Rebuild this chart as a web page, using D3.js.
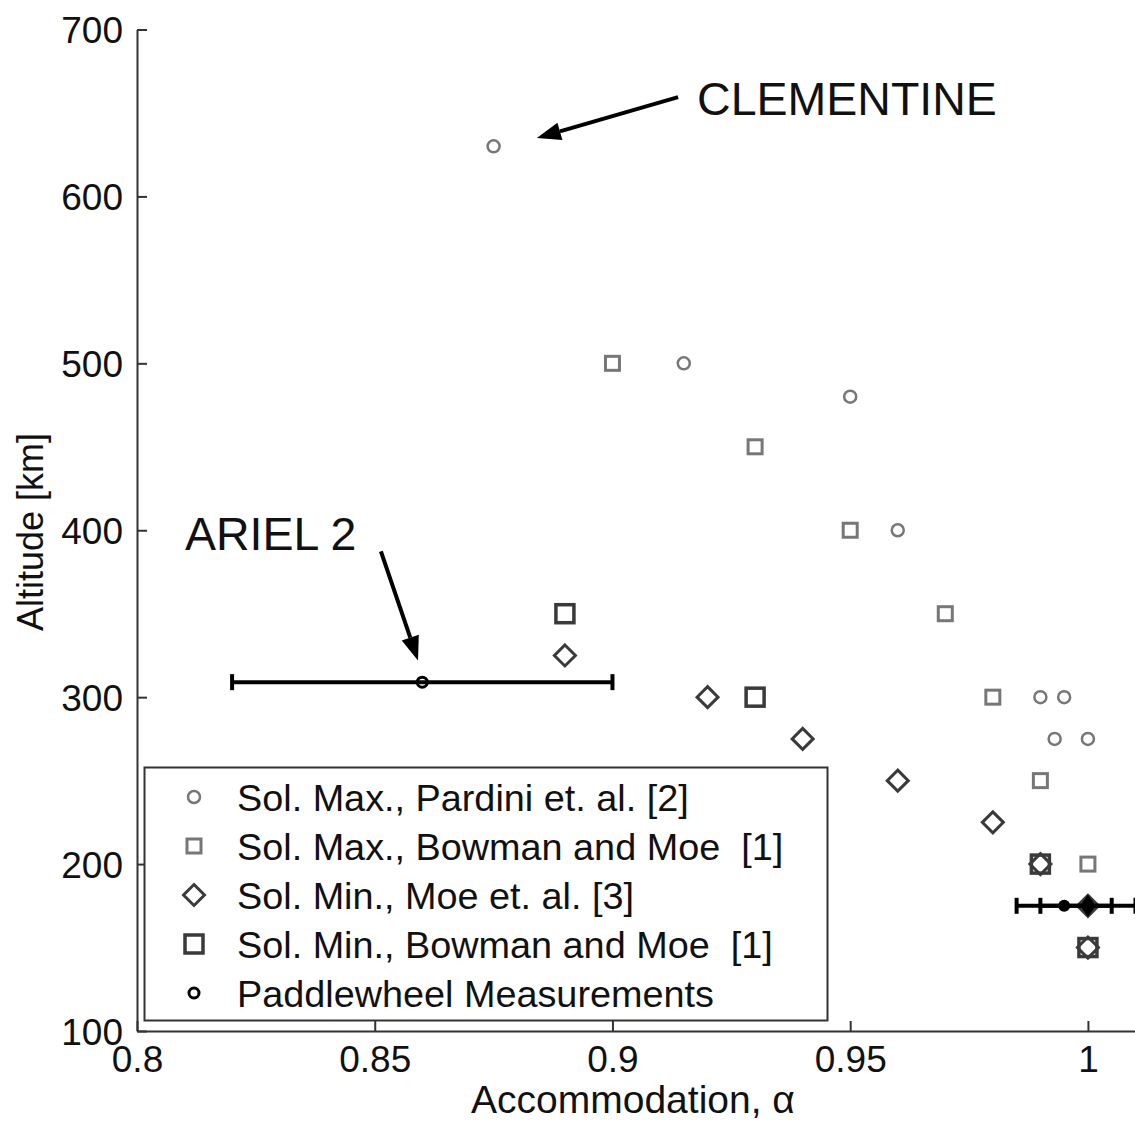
<!DOCTYPE html>
<html><head><meta charset="utf-8">
<script src="https://cdn.jsdelivr.net/npm/d3@7"></script>
<style>body{margin:0;background:#fff}svg{display:block}text{font-family:"Liberation Sans",Arial,sans-serif}</style>
</head><body><svg id="c" width="1135" height="1122"></svg>
<script>
const xTicks = [0.8, 0.85, 0.9, 0.95, 1];
const xTickLabels = ["0.8", "0.85", "0.9", "0.95", "1"];
const yTicks = [100, 200, 300, 400, 500, 600, 700];
const pardiniMax = [[0.875,630],[0.915,500],[0.95,480],[0.96,400],[0.99,300],[0.995,300],[0.993,275],[1.0,275]];
const bowmanMax = [[0.9,500],[0.93,450],[0.95,400],[0.97,350],[0.98,300],[0.99,250],[1.0,200]];
const moeMin = [[0.89,325],[0.92,300],[0.94,275],[0.96,250],[0.98,225],[0.99,200],[1.0,175],[1.0,150]];
const bowmanMin = [[0.89,350],[0.93,300],[0.99,200],[1.0,150]];
const paddle = [[0.86,309,0.04],[0.995,175,0.01],[1.0,175,0.01]];
const legendLabels = ["Sol. Max., Pardini et. al. [2]","Sol. Max., Bowman and Moe\u00a0 [1]","Sol. Min., Moe et. al. [3]","Sol. Min., Bowman and Moe\u00a0 [1]","Paddlewheel Measurements"];
const annotations = [
  {text:"CLEMENTINE", tx:0.9178, ty:648.8, from:[0.9138,659.5], to:[0.8841,635]},
  {text:"ARIEL 2", tx:0.8101, ty:388.2, from:[0.8513,387.4], to:[0.8591,322]}
];

const svg = d3.select("#c");
const x = d3.scaleLinear().domain([0.8, 1.0099]).range([137, 1135]);
const y = d3.scaleLinear().domain([100, 700]).range([1031, 29.5]);
const axisCol = "#333";

// axes
const gx = svg.append("g").attr("transform","translate(0,1031)")
  .call(d3.axisBottom(x).tickValues(xTicks).tickFormat((d,i)=>xTickLabels[i]).tickSizeInner(-10).tickSizeOuter(0));
const gy = svg.append("g").attr("transform","translate(137,0)")
  .call(d3.axisLeft(y).tickValues(yTicks).tickSizeInner(-10).tickSizeOuter(0));
[gx,gy].forEach(g=>{
  g.select(".domain").attr("stroke",axisCol).attr("stroke-width",2);
  g.selectAll(".tick line").attr("stroke",axisCol).attr("stroke-width",2);
  g.selectAll(".tick text").attr("font-size",37).attr("fill","#111").attr("font-family","Liberation Sans, Arial, sans-serif");
});
gx.selectAll(".tick text").attr("dy",null).attr("y",41);
gy.selectAll(".tick text").attr("x",-14).attr("dy","0.36em");

svg.append("text").attr("x",633).attr("y",1113).attr("text-anchor","middle").attr("font-size",39).attr("fill","#111").text("Accommodation, α");
svg.append("text").attr("transform","translate(43,532) rotate(-90)").attr("text-anchor","middle").attr("font-size",36).attr("fill","#111").text("Altitude [km]");

const plot = svg.append("g");
function circle(g,cx,cy,r,col,sw){g.append("circle").attr("cx",cx).attr("cy",cy).attr("r",r).attr("fill","none").attr("stroke",col).attr("stroke-width",sw);}
function square(g,cx,cy,s,col,sw){g.append("rect").attr("x",cx-s/2).attr("y",cy-s/2).attr("width",s).attr("height",s).attr("fill","none").attr("stroke",col).attr("stroke-width",sw);}
function diamond(g,cx,cy,s,col,sw){g.append("path").attr("d",`M${cx},${cy-s/2}L${cx+s/2},${cy}L${cx},${cy+s/2}L${cx-s/2},${cy}Z`).attr("fill","none").attr("stroke",col).attr("stroke-width",sw);}

const cMax="#777", cMin="#3a3a3a";
const styles = [
  (g,cx,cy)=>circle(g,cx,cy,6,cMax,2.5),
  (g,cx,cy)=>square(g,cx,cy,14,cMax,3),
  (g,cx,cy)=>diamond(g,cx,cy,21,cMin,3),
  (g,cx,cy)=>square(g,cx,cy,18,cMin,3.5),
  (g,cx,cy)=>circle(g,cx,cy,5,"#000",3)
];
pardiniMax.forEach(d=>styles[0](plot,x(d[0]),y(d[1])));
bowmanMax.forEach(d=>styles[1](plot,x(d[0]),y(d[1])));
moeMin.forEach(d=>styles[2](plot,x(d[0]),y(d[1])));
bowmanMin.forEach(d=>styles[3](plot,x(d[0]),y(d[1])));
paddle.forEach(d=>{
  const cy=y(d[1]), x0=x(d[0]-d[2]), x1=x(d[0]+d[2]);
  plot.append("line").attr("x1",x0).attr("x2",x1).attr("y1",cy).attr("y2",cy).attr("stroke","#000").attr("stroke-width",4);
  [x0,x1].forEach(xx=>plot.append("line").attr("x1",xx).attr("x2",xx).attr("y1",cy-8).attr("y2",cy+8).attr("stroke","#000").attr("stroke-width",4));
  if(d[2]<0.02){
    plot.append("circle").attr("cx",x(d[0])).attr("cy",cy).attr("r",6).attr("fill","#000");
  } else styles[4](plot,x(d[0]),cy);
});
// thick dark fill where paddlewheel overlaps Moe diamond at (1.0,175)
plot.append("path").attr("d",`M${x(1)},${y(175)-11}L${x(1)+8},${y(175)}L${x(1)},${y(175)+11}L${x(1)-8},${y(175)}Z`).attr("fill","#000");

// annotations
annotations.forEach(a=>{
  svg.append("text").attr("x",x(a.tx)).attr("y",y(a.ty)).attr("font-size",46.5).attr("fill","#111").text(a.text);
  const x1=x(a.from[0]), y1=y(a.from[1]), x2=x(a.to[0]), y2=y(a.to[1]);
  const ang=Math.atan2(y2-y1,x2-x1), L=24, W=9;
  const bx=x2-L*Math.cos(ang), by=y2-L*Math.sin(ang);
  svg.append("line").attr("x1",x1).attr("y1",y1).attr("x2",bx).attr("y2",by).attr("stroke","#000").attr("stroke-width",4);
  svg.append("path").attr("d",`M${x2},${y2}L${bx+W*Math.sin(ang)},${by-W*Math.cos(ang)}L${bx-W*Math.sin(ang)},${by+W*Math.cos(ang)}Z`).attr("fill","#000");
});

// legend
const lg = svg.append("g");
lg.append("rect").attr("x",144.5).attr("y",767.5).attr("width",683).attr("height",253).attr("fill","#fff").attr("stroke","#333").attr("stroke-width",2);
legendLabels.forEach((t,i)=>{
  const cy = 797 + i*49;
  styles[i](lg,194,cy);
  lg.append("text").attr("x",237).attr("y",cy).attr("dy","0.36em").attr("font-size",37.8).attr("fill","#111").text(t);
});
</script></body></html>
